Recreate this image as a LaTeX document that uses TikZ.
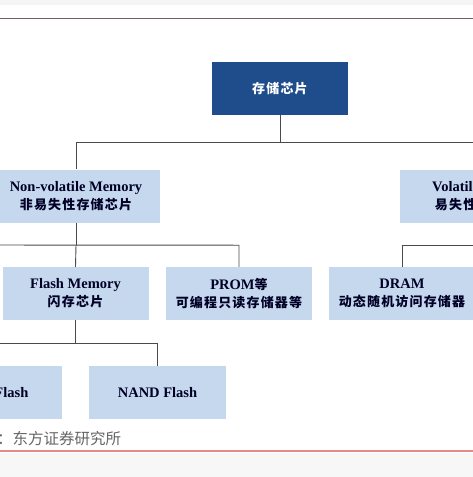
\documentclass[tikz,border=0pt]{standalone}
\usepackage{fontspec}
\setmainfont{Liberation Serif}
\newfontfamily\cjk[LetterSpace=9]{Noto Sans CJK SC}
\newfontfamily\cjksrc{Noto Sans CJK SC}
\definecolor{rootblue}{HTML}{1F4D8C}
\definecolor{boxblue}{HTML}{C6D8EE}
\definecolor{linegray}{HTML}{4A4A4A}
\definecolor{rulered}{HTML}{E58A8A}
\definecolor{rulegray}{HTML}{6E6262}
\newcommand{\zh}[1]{{\fontsize{13}{18}\selectfont\cjk\bfseries #1}}
\tikzset{
  chip/.style={rectangle, fill=boxblue, inner sep=0pt, minimum width=146pt, minimum height=53pt,
    align=center, font=\fontsize{14.5}{18}\selectfont\bfseries, text=black!85!blue},
  groupbox/.style={chip, minimum width=168pt},
  link/.style={draw=linegray, line width=0.9pt},
}
\begin{document}
\begin{tikzpicture}[x=1pt,y=-1pt]
    \useasboundingbox (0,0) rectangle (473,477);
    \fill[white] (0,0) rectangle (473,477);
    \fill[black!4] (0,0) rectangle (473,5);
    \fill[black!3] (0,453) rectangle (473,477);
    \draw[line width=1pt, draw=rulegray] (0,18) -- (473,18);
    \draw[line width=1.3pt, draw=rulered] (0,451) -- (473,451);

    \node[chip, fill=rootblue, minimum width=136pt, text=white] (root) at (280,88.5) {\zh{存储芯片}};
    \node[groupbox] (nvm) at (76,196) {Non-volatile Memory\\\zh{非易失性存储芯片}};
    \node[groupbox] (vm) at (484,196) {Volatile Memory\\\zh{易失性存储芯片}};
    \node[chip] (flash) at (75.5,293.5) {Flash Memory\\\zh{闪存芯片}};
    \node[chip] (prom) at (239,293.5) {PROM\zh{等}\\\zh{可编程只读存储器等}};
    \node[chip] (dram) at (402,293.5) {DRAM\\\zh{动态随机访问存储器}};
    \node[chip, minimum width=137pt] (nor) at (-6.5,392.5) {NOR Flash};
    \node[chip, minimum width=137pt] (nand) at (157.5,392.5) {NAND Flash};
    \node[anchor=base west, inner sep=0pt, text=black!60, font=\fontsize{15.5}{16}\selectfont\cjksrc] (src) at (-65,444) {资料来源：东方证券研究所};

    \coordinate (nvmleft) at (-40,245);
    \draw[link] (root.south) -- ++(0,27) coordinate (rj);
    \draw[link] (nvm.north) |- (rj) -| (vm.north);
    \draw[link] (nvm.south) -- ++(0,22.5) coordinate (nj);
    \draw[link] (nvmleft) -- (nj -| prom.north) -- (prom.north);
    \draw[link] (nj) -- (flash.north);
    \draw[link] (vm.south) -- ++(0,22.5) -| (dram.north);
    \draw[link] (flash.south) -- ++(0,23) coordinate (fj);
    \draw[link] (nor.north) |- (fj) -| (nand.north);
\end{tikzpicture}
\end{document}
